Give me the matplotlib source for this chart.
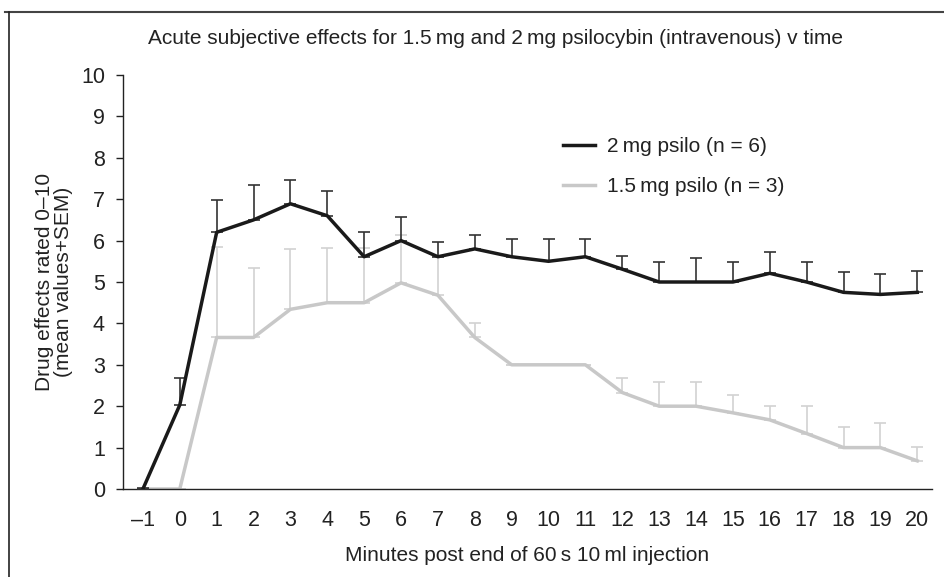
import matplotlib.pyplot as plt
from matplotlib.lines import Line2D

plt.rcParams['font.family'] = ['Liberation Sans', 'DejaVu Sans']

# Minutes post injection
minutes = list(range(-1, 21))

# 2 mg psilocybin (n = 6): mean and SEM
mean_2mg = [0, 2.03, 6.2, 6.5, 6.89, 6.6, 5.61, 6.0, 5.61, 5.8, 5.61, 5.5, 5.61,
            5.31, 5.0, 5.0, 5.0, 5.21, 5.0, 4.75, 4.7, 4.75]
sem_2mg = [0.03, 0.64, 0.79, 0.85, 0.58, 0.61, 0.6, 0.57, 0.35, 0.33, 0.44, 0.53, 0.44,
           0.32, 0.49, 0.57, 0.49, 0.51, 0.49, 0.5, 0.49, 0.51]

# 1.5 mg psilocybin (n = 3): mean and SEM
mean_15mg = [0, 0, 3.66, 3.66, 4.34, 4.5, 4.5, 4.98, 4.68, 3.66, 3.0, 3.0, 3.0,
             2.33, 2.0, 2.0, 1.84, 1.67, 1.34, 1.0, 1.0, 0.68]
sem_15mg = [0, 0, 2.19, 1.67, 1.45, 1.32, 1.32, 1.16, 0.95, 0.34, 0, 0, 0,
            0.34, 0.58, 0.58, 0.44, 0.34, 0.67, 0.5, 0.59, 0.33]

fig = plt.figure(figsize=(9.44, 5.77), dpi=100)
ax = fig.add_axes([123 / 944, 1 - 489 / 577, (932 - 123) / 944, (489 - 75) / 577])

# error bars (upper only)
ax.errorbar(minutes, mean_15mg, yerr=[[0] * len(sem_15mg), sem_15mg], fmt='none',
            ecolor='#d2d2d2', elinewidth=1.2, capsize=4, capthick=1.2, zorder=1)
ax.plot(minutes, mean_15mg, color='#c8c8c8', linewidth=2.5, zorder=2)
ax.errorbar(minutes, mean_2mg, yerr=[[0] * len(sem_2mg), sem_2mg], fmt='none',
            ecolor='#333333', elinewidth=1.2, capsize=4, capthick=1.2, zorder=3)
ax.plot(minutes, mean_2mg, color='#1a1a1a', linewidth=2.5, zorder=4)

ax.set_xlim(-1.54, 20.4)
ax.set_ylim(0, 10)
ax.set_xticks(minutes)
ax.set_xticklabels([str(m).replace('-', '\u2013') for m in minutes])
ax.set_yticks(range(0, 11))
ax.tick_params(axis='x', length=0, pad=15, labelsize=15.5, colors='#222222')
ax.tick_params(axis='y', length=5, width=1, pad=8, labelsize=15.5, colors='#222222')
for s in ['top', 'right']:
    ax.spines[s].set_visible(False)
ax.spines['left'].set_color('#222222')
ax.spines['bottom'].set_color('#222222')
ax.spines['left'].set_linewidth(1)
ax.spines['bottom'].set_linewidth(1)

ax.set_xlabel('Minutes post end of 60\u2009s 10\u2009ml injection', fontsize=15,
              color='#222222', labelpad=11)
ax.set_ylabel('Drug effects rated 0\u201310\n(mean values+SEM)', fontsize=15,
              color='#222222', labelpad=6, linespacing=0.95)

handles = [Line2D([], [], color='#1a1a1a', linewidth=2.5),
           Line2D([], [], color='#c8c8c8', linewidth=2.5)]
ax.legend(handles, ['2\u2009mg psilo (n = 6)', '1.5\u2009mg psilo (n = 3)'],
          loc='upper left', bbox_to_anchor=(0.533, 0.87), frameon=False,
          fontsize=15, handlelength=1.55, labelspacing=1.0, handletextpad=0.6,
          labelcolor='#222222', borderaxespad=0)

fig.text(495 / 944, 1 - 38 / 577,
         'Acute subjective effects for 1.5\u2009mg and 2\u2009mg psilocybin (intravenous) v time',
         ha='center', va='center', fontsize=15, color='#222222')

# outer frame
fig.add_artist(Line2D([5 / 944, 1], [1 - 12 / 577, 1 - 12 / 577], color='#444444',
                      linewidth=1.5, transform=fig.transFigure))
fig.add_artist(Line2D([9 / 944, 9 / 944], [1 - 12 / 577, 0], color='#222222',
                      linewidth=1.2, transform=fig.transFigure))

fig.savefig('out.png', dpi=100)
